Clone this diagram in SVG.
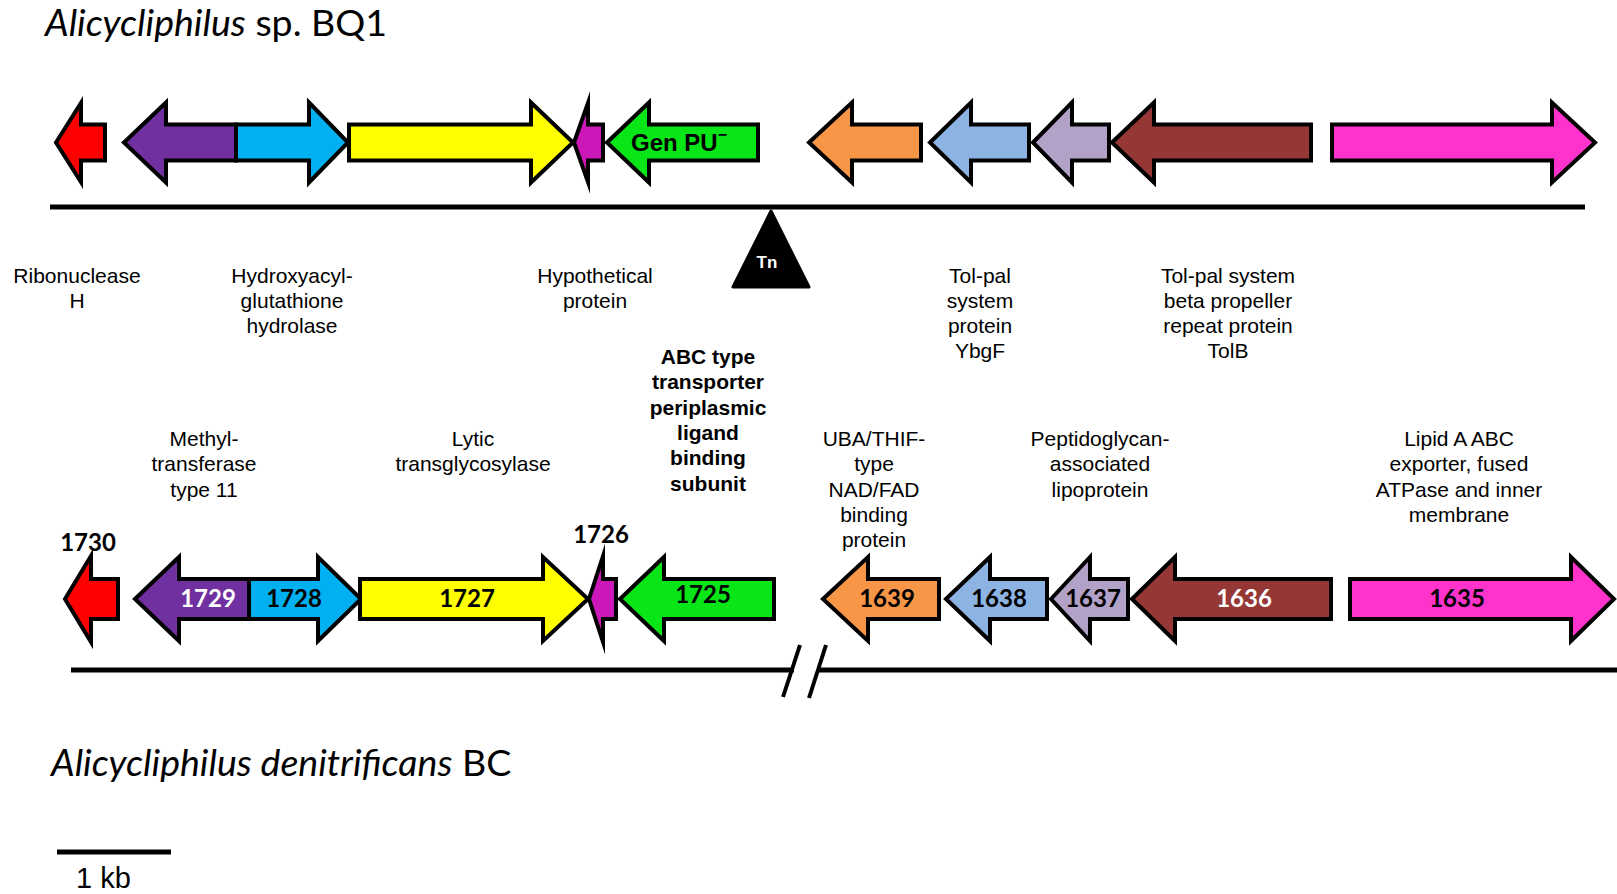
<svg xmlns="http://www.w3.org/2000/svg" width="1617" height="894" viewBox="0 0 1617 894">
<style>
.g{stroke:#000;stroke-width:4;stroke-linejoin:miter;stroke-miterlimit:10}
.lbl{font-family:"Liberation Sans",Arial,sans-serif;font-size:21px;fill:#000;text-anchor:middle}
.b{font-weight:bold}
.num{font-family:Lato,"Liberation Sans",sans-serif;font-weight:bold;font-size:24px;text-anchor:middle}
.title{font-family:Lato,"Open Sans",sans-serif;font-size:37.5px;fill:#000}
.line{stroke:#000;stroke-width:5;fill:none}
</style>
<rect width="1617" height="894" fill="#fff"/>
<text class="title" x="45" y="36"><tspan font-style="italic">Alicycliphilus</tspan> sp. BQ1</text>
<text class="title" x="51" y="776"><tspan font-style="italic">Alicycliphilus denitrificans</tspan> BC</text>
<g id="connectors">
<line class="line" x1="50" y1="207" x2="1585" y2="207"/>
<line class="line" x1="71" y1="670" x2="794" y2="670"/>
<line class="line" x1="818" y1="670" x2="1617" y2="670"/>
<line x1="800" y1="645" x2="783" y2="697" stroke="#000" stroke-width="4"/>
<line x1="826" y1="645" x2="809" y2="698" stroke="#000" stroke-width="4"/>
</g>
<g id="tn">
<path d="M771,211 L733,287 L809,287 Z" fill="#000" stroke="#000" stroke-width="3" stroke-linejoin="round"/>
<text x="767" y="268" font-family="Liberation Sans,Arial,sans-serif" font-weight="bold" font-size="17" fill="#fff" text-anchor="middle">Tn</text>
</g>
<g id="top-genes">
<g id="t-rnaseH"><path class="g" fill="#FF0000" d="M56,142.5 L81,103 L81,124.5 L105,124.5 L105,160.5 L81,160.5 L81,182 Z"/></g>
<g id="t-methyl"><path class="g" fill="#7030A0" d="M124,142.5 L166,102.5 L166,124.5 L236,124.5 L236,160.5 L166,160.5 L166,182.5 Z"/></g>
<g id="t-hydroxy"><path class="g" fill="#00B0F0" d="M236,124.5 L309,124.5 L309,102.5 L348,142.5 L309,182.5 L309,160.5 L236,160.5 Z"/></g>
<g id="t-lytic"><path class="g" fill="#FFFF00" d="M349,124.5 L531,124.5 L531,102.5 L573,142.5 L531,182.5 L531,160.5 L349,160.5 Z"/></g>
<g id="t-hypo"><path class="g" fill="#CC18B8" d="M574,142.5 L588,103 L588,124.5 L603,124.5 L603,160.5 L588,160.5 L588,182 Z"/></g>
<g id="t-genpu"><path class="g" fill="#09E617" d="M607,142.5 L649,102.5 L649,124.5 L758,124.5 L758,160.5 L649,160.5 L649,182.5 Z"/>
<text x="631" y="151" font-family="Liberation Sans,Arial,sans-serif" font-weight="bold" font-size="24" fill="#000">Gen PU<tspan dy="-11" font-size="16">−</tspan></text></g>
<g id="t-uba"><path class="g" fill="#F79646" d="M809,142.5 L852,102.5 L852,124.5 L921,124.5 L921,160.5 L852,160.5 L852,182.5 Z"/></g>
<g id="t-ybgf"><path class="g" fill="#8DB3E2" d="M930,142.5 L971,102.5 L971,124.5 L1029,124.5 L1029,160.5 L971,160.5 L971,182.5 Z"/></g>
<g id="t-pal"><path class="g" fill="#B2A2C7" d="M1033,142.5 L1072,102.5 L1072,124.5 L1109,124.5 L1109,160.5 L1072,160.5 L1072,182.5 Z"/></g>
<g id="t-tolb"><path class="g" fill="#953735" d="M1112,142.5 L1154,102.5 L1154,124.5 L1311,124.5 L1311,160.5 L1154,160.5 L1154,182.5 Z"/></g>
<g id="t-lipidA"><path class="g" fill="#FF33CC" d="M1332,124.5 L1552,124.5 L1552,102.5 L1595,142.5 L1552,182.5 L1552,160.5 L1332,160.5 Z"/></g>
</g>
<g id="bottom-genes">
<g id="b-1730"><path class="g" fill="#FF0000" d="M65,599 L91,556 L91,579 L118,579 L118,619 L91,619 L91,642 Z"/>
<text class="num" x="88" y="551">1730</text></g>
<g id="b-1729"><path class="g" fill="#7030A0" d="M135,599 L179,557 L179,579 L249,579 L249,619 L179,619 L179,641 Z"/>
<text class="num" x="208" y="607" fill="#fff">1729</text></g>
<g id="b-1728"><path class="g" fill="#00B0F0" d="M249,579 L318,579 L318,557 L361,599 L318,641 L318,619 L249,619 Z"/>
<text class="num" x="294" y="607">1728</text></g>
<g id="b-1727"><path class="g" fill="#FFFF00" d="M360,579 L543,579 L543,557 L588,599 L543,641 L543,619 L360,619 Z"/>
<text class="num" x="467" y="607">1727</text></g>
<g id="b-1726"><path class="g" fill="#CC18B8" d="M589,599 L603,556 L603,579 L616,579 L616,619 L603,619 L603,642 Z"/>
<text class="num" x="601" y="543">1726</text></g>
<g id="b-1725"><path class="g" fill="#09E617" d="M620,599 L664,557 L664,579 L774,579 L774,619 L664,619 L664,641 Z"/>
<text class="num" x="703" y="603">1725</text></g>
<g id="b-1639"><path class="g" fill="#F79646" d="M823,599 L868,557 L868,579 L939,579 L939,619 L868,619 L868,641 Z"/>
<text class="num" x="887" y="607">1639</text></g>
<g id="b-1638"><path class="g" fill="#8DB3E2" d="M946,599 L990,557 L990,579 L1047,579 L1047,619 L990,619 L990,641 Z"/>
<text class="num" x="999" y="607">1638</text></g>
<g id="b-1637"><path class="g" fill="#B2A2C7" d="M1051,599 L1090,557 L1090,579 L1128,579 L1128,619 L1090,619 L1090,641 Z"/>
<text class="num" x="1093" y="607">1637</text></g>
<g id="b-1636"><path class="g" fill="#953735" d="M1132,599 L1175,557 L1175,579 L1331,579 L1331,619 L1175,619 L1175,641 Z"/>
<text class="num" x="1244" y="607" fill="#fff">1636</text></g>
<g id="b-1635"><path class="g" fill="#FF33CC" d="M1350,579 L1571,579 L1571,557 L1614,599 L1571,641 L1571,619 L1350,619 Z"/>
<text class="num" x="1457" y="607">1635</text></g>
</g>
<g id="labels">
<text class="lbl" x="77" y="283">Ribonuclease<tspan x="77" dy="25">H</tspan></text>
<text class="lbl" x="292" y="283">Hydroxyacyl-<tspan x="292" dy="25">glutathione</tspan><tspan x="292" dy="25">hydrolase</tspan></text>
<text class="lbl" x="595" y="283">Hypothetical<tspan x="595" dy="25">protein</tspan></text>
<text class="lbl" x="980" y="283">Tol-pal<tspan x="980" dy="25">system</tspan><tspan x="980" dy="25">protein</tspan><tspan x="980" dy="25">YbgF</tspan></text>
<text class="lbl" x="1228" y="283">Tol-pal system<tspan x="1228" dy="25">beta propeller</tspan><tspan x="1228" dy="25">repeat protein</tspan><tspan x="1228" dy="25">TolB</tspan></text>
<text class="lbl b" x="708" y="364">ABC type<tspan x="708" dy="25.3">transporter</tspan><tspan x="708" dy="25.3">periplasmic</tspan><tspan x="708" dy="25.3">ligand</tspan><tspan x="708" dy="25.3">binding</tspan><tspan x="708" dy="25.3">subunit</tspan></text>
<text class="lbl" x="204" y="446">Methyl-<tspan x="204" dy="25.3">transferase</tspan><tspan x="204" dy="25.3">type 11</tspan></text>
<text class="lbl" x="473" y="446">Lytic<tspan x="473" dy="25.3">transglycosylase</tspan></text>
<text class="lbl" x="874" y="446">UBA/THIF-<tspan x="874" dy="25.3">type</tspan><tspan x="874" dy="25.3">NAD/FAD</tspan><tspan x="874" dy="25.3">binding</tspan><tspan x="874" dy="25.3">protein</tspan></text>
<text class="lbl" x="1100" y="446">Peptidoglycan-<tspan x="1100" dy="25.3">associated</tspan><tspan x="1100" dy="25.3">lipoprotein</tspan></text>
<text class="lbl" x="1459" y="446">Lipid A ABC<tspan x="1459" dy="25.3">exporter, fused</tspan><tspan x="1459" dy="25.3">ATPase and inner</tspan><tspan x="1459" dy="25.3">membrane</tspan></text>
</g>
<g id="scale">
<line x1="57" y1="852" x2="171" y2="852" stroke="#000" stroke-width="5"/>
<text x="76" y="888" font-family="Liberation Sans,Arial,sans-serif" font-size="29">1 kb</text>
</g>
</svg>
